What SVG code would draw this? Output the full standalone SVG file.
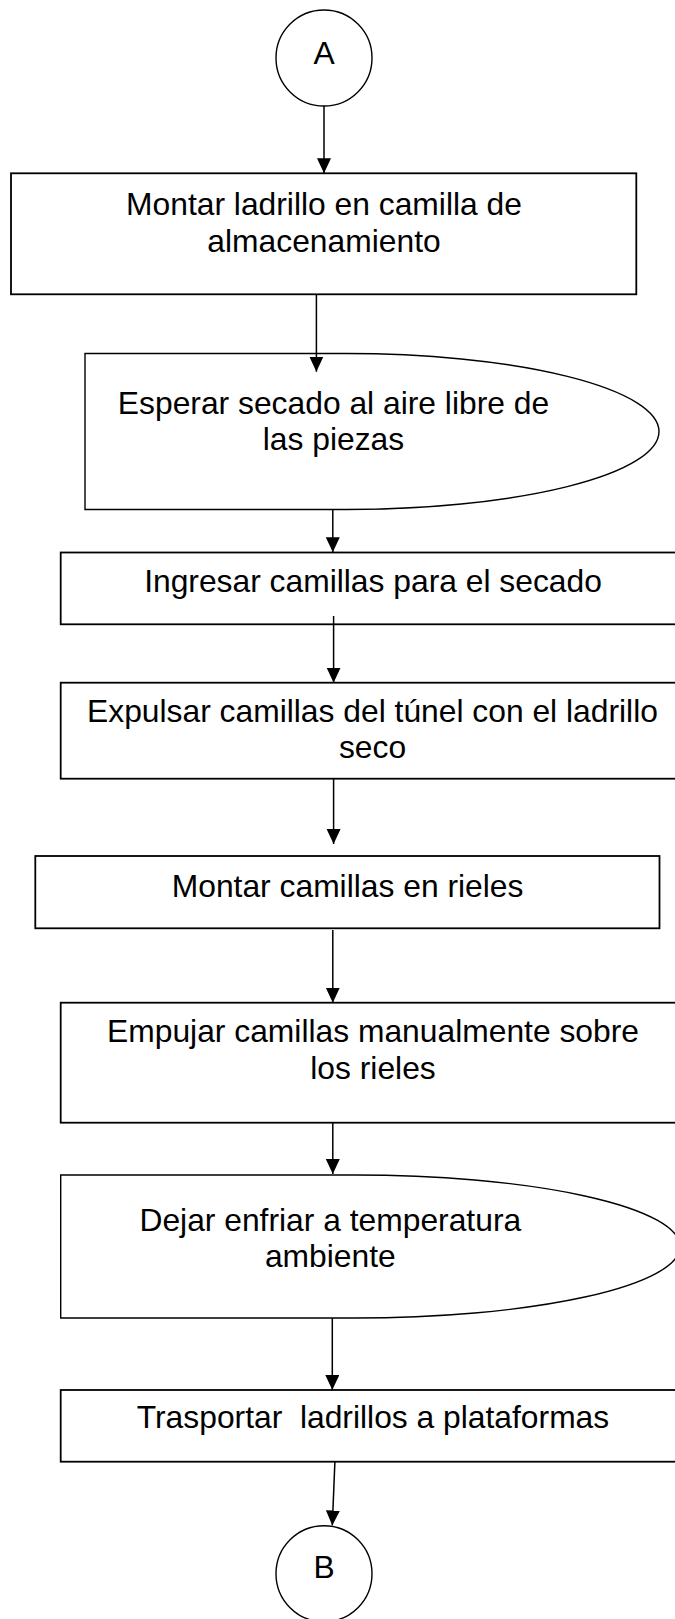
<svg xmlns="http://www.w3.org/2000/svg" width="675" height="1619" viewBox="0 0 675 1619">
<style>
.box{fill:#fff;stroke:#000;stroke-width:1.8}
.shp{fill:#fff;stroke:#000;stroke-width:1.4}
.t{font-family:"Liberation Sans",Arial,sans-serif;font-size:31.8px;fill:#000;text-anchor:middle}
.c{stroke:#000;stroke-width:1.5;fill:none}
</style>
<defs>
<marker id="ah" markerUnits="userSpaceOnUse" markerWidth="16" markerHeight="15" refX="15" refY="7" orient="auto">
<path d="M0,0 L15,7 L0,14 Z" fill="#000"/>
</marker>
</defs>
<g id="nodeA">
<circle class="shp" cx="324" cy="58" r="48"/>
<text class="t" x="324" y="64">A</text>
</g>
<g id="node1">
<rect class="box" x="11" y="173.3" width="625.3" height="121"/>
<text class="t" x="324" y="215">Montar ladrillo en camilla de</text>
<text class="t" x="324" y="251.5">almacenamiento</text>
</g>
<g id="node2">
<path class="shp" d="M85,353.5 H346 A313,78 0 0 1 346,509.5 H85 Z"/>
<text class="t" x="333.5" y="414">Esperar secado al aire libre de</text>
<text class="t" x="333.5" y="450">las piezas</text>
</g>
<g id="node3">
<rect class="box" x="60.7" y="552.5" width="640" height="71.8"/>
<text class="t" x="373" y="592.3">Ingresar camillas para el secado</text>
</g>
<g id="node4">
<rect class="box" x="60.7" y="682.7" width="640" height="96"/>
<text class="t" x="372.5" y="721.7">Expulsar camillas del túnel con el ladrillo</text>
<text class="t" x="372.5" y="758.3">seco</text>
</g>
<g id="node5">
<rect class="box" x="35.3" y="856" width="624.2" height="72.3"/>
<text class="t" x="347.6" y="896.7">Montar camillas en rieles</text>
</g>
<g id="node6">
<rect class="box" x="60.7" y="1002.7" width="640" height="120"/>
<text class="t" x="373" y="1042.3">Empujar camillas manualmente sobre</text>
<text class="t" x="373" y="1079">los rieles</text>
</g>
<g id="node7">
<path class="shp" d="M60.7,1175 H355 A325,71.5 0 0 1 355,1318 H60.7 Z"/>
<text class="t" x="330.3" y="1230.7">Dejar enfriar a temperatura</text>
<text class="t" x="330.3" y="1267.3">ambiente</text>
</g>
<g id="node8">
<rect class="box" x="60.7" y="1390" width="640" height="71.7"/>
<text class="t" x="373" y="1428.3" xml:space="preserve">Trasportar  ladrillos a plataformas</text>
</g>
<g id="nodeB">
<circle class="shp" cx="324" cy="1573.7" r="48"/>
<text class="t" x="324" y="1578.3">B</text>
</g>
<g id="connectors">
<line class="c" x1="324" y1="106" x2="324" y2="173.3" marker-end="url(#ah)"/>
<line class="c" x1="316.4" y1="294.3" x2="316.4" y2="371.7" marker-end="url(#ah)"/>
<line class="c" x1="332.8" y1="509.5" x2="332.8" y2="552.3" marker-end="url(#ah)"/>
<line class="c" x1="333.6" y1="616" x2="333.6" y2="682.7" marker-end="url(#ah)"/>
<line class="c" x1="333.6" y1="778.7" x2="333.6" y2="844" marker-end="url(#ah)"/>
<line class="c" x1="332.8" y1="930" x2="332.8" y2="1002.7" marker-end="url(#ah)"/>
<line class="c" x1="332.8" y1="1122.7" x2="332.8" y2="1174" marker-end="url(#ah)"/>
<line class="c" x1="332.3" y1="1318" x2="332.3" y2="1390" marker-end="url(#ah)"/>
<line class="c" x1="334.9" y1="1461.7" x2="332.3" y2="1525.5" marker-end="url(#ah)"/>
</g>
</svg>
